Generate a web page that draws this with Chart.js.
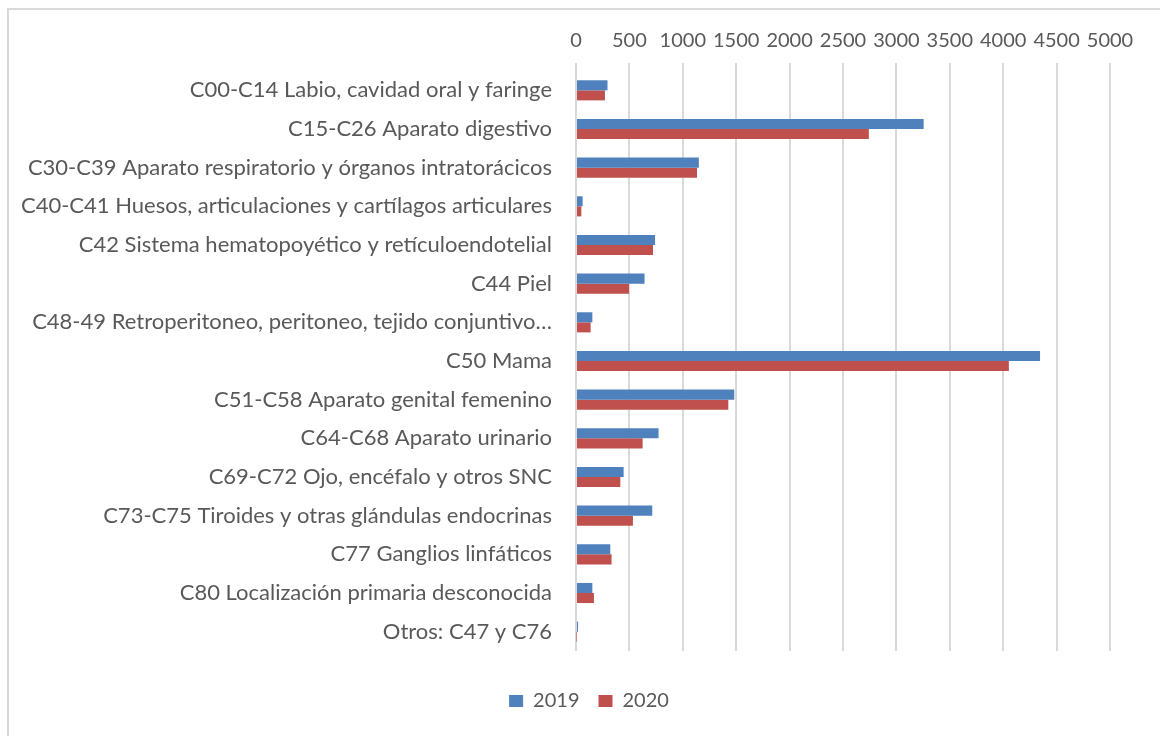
<!DOCTYPE html>
<html>
<head>
<meta charset="utf-8">
<title>Casos por localización</title>
<script src="https://cdn.jsdelivr.net/npm/chart.js"></script>
<style>
    html, body { margin: 0; padding: 0; background: #fff; overflow: hidden; }
    #frame {
        position: absolute; left: 7px; top: 8px;
        width: 1200px; height: 800px;
        border: 2px solid #d9d9d9;
    }
    #wrap { position: absolute; left: 0; top: 0; width: 1160px; height: 736px; }
</style>
</head>
<body>
<div id="frame"></div>
<div id="wrap"><canvas id="myChart" width="1160" height="736"></canvas></div>
<script>
    // categories (top to bottom)
    var categories = [
        'C00-C14 Labio, cavidad oral y faringe',
        'C15-C26 Aparato digestivo',
        'C30-C39 Aparato respiratorio y órganos intratorácicos',
        'C40-C41 Huesos, articulaciones y cartílagos articulares',
        'C42 Sistema hematopoyético y retículoendotelial',
        'C44 Piel',
        'C48-49 Retroperitoneo, peritoneo, tejido conjuntivo…',
        'C50 Mama',
        'C51-C58 Aparato genital femenino',
        'C64-C68 Aparato urinario',
        'C69-C72 Ojo, encéfalo y otros SNC',
        'C73-C75 Tiroides y otras glándulas endocrinas',
        'C77 Ganglios linfáticos',
        'C80 Localización primaria desconocida',
        'Otros: C47 y C76'
    ];
    var values2019 = [295, 3255, 1150, 62, 740, 642, 153, 4345, 1482, 773, 446, 714, 321, 153, 19];
    var values2020 = [271, 2742, 1133, 50, 721, 496, 137, 4053, 1426, 624, 415, 533, 333, 168, 4];
    var xTicks = [0, 500, 1000, 1500, 2000, 2500, 3000, 3500, 4000, 4500, 5000];

    var fontFamily = 'Lato, sans-serif';
    var textColor = '#595959';

    // nudge the legend to the right so it sits under the middle of the whole figure
    var legendShift = {
        id: 'legendShift',
        afterLayout: function (chart) {
            chart.legend.left += 27;
            chart.legend.right += 27;
        }
    };

    var ctx = document.getElementById('myChart').getContext('2d');
    var chart = new Chart(ctx, {
        type: 'bar',
        data: {
            labels: categories,
            datasets: [
                { label: '2019', data: values2019, backgroundColor: '#4f81bd', borderWidth: 0 },
                { label: '2020', data: values2020, backgroundColor: '#c0504d', borderWidth: 0 }
            ]
        },
        options: {
            indexAxis: 'y',
            responsive: false,
            animation: false,
            barPercentage: 1,
            categoryPercentage: 0.52,
            layout: { padding: { top: 21, left: 14, right: 50, bottom: 15 } },
            scales: {
                x: {
                    position: 'top',
                    min: 0,
                    max: 5000,
                    afterBuildTicks: function (scale) {
                        scale.ticks = xTicks.map(function (v) { return { value: v }; });
                    },
                    afterFit: function (scale) { scale.height = 50; },
                    grid: { color: '#d9d9d9', lineWidth: 2, drawTicks: true, tickLength: 8 },
                    border: { display: false },
                    ticks: {
                        color: textColor,
                        font: { family: fontFamily, size: 20 },
                        maxRotation: 0,
                        autoSkip: false,
                        padding: 10,
                        callback: function (v) { return String(v); }
                    }
                },
                y: {
                    afterFit: function (scale) { scale.width = 562; },
                    grid: { display: false },
                    border: { display: false },
                    ticks: {
                        color: textColor,
                        font: { family: fontFamily, size: 22 },
                        padding: 16
                    }
                }
            },
            plugins: {
                // empty bottom subtitle, only used as a gap between plot and legend
                subtitle: {
                    display: true,
                    position: 'bottom',
                    text: '',
                    weight: 500,
                    font: { size: 1, lineHeight: 1 },
                    padding: { top: 20, bottom: 0 }
                },
                legend: {
                    position: 'bottom',
                    labels: {
                        color: textColor,
                        font: { family: fontFamily, size: 20 },
                        boxWidth: 14,
                        boxHeight: 12,
                        padding: 19
                    }
                },
                tooltip: { enabled: false }
            }
        },
        plugins: [legendShift]
    });
</script>
</body>
</html>
